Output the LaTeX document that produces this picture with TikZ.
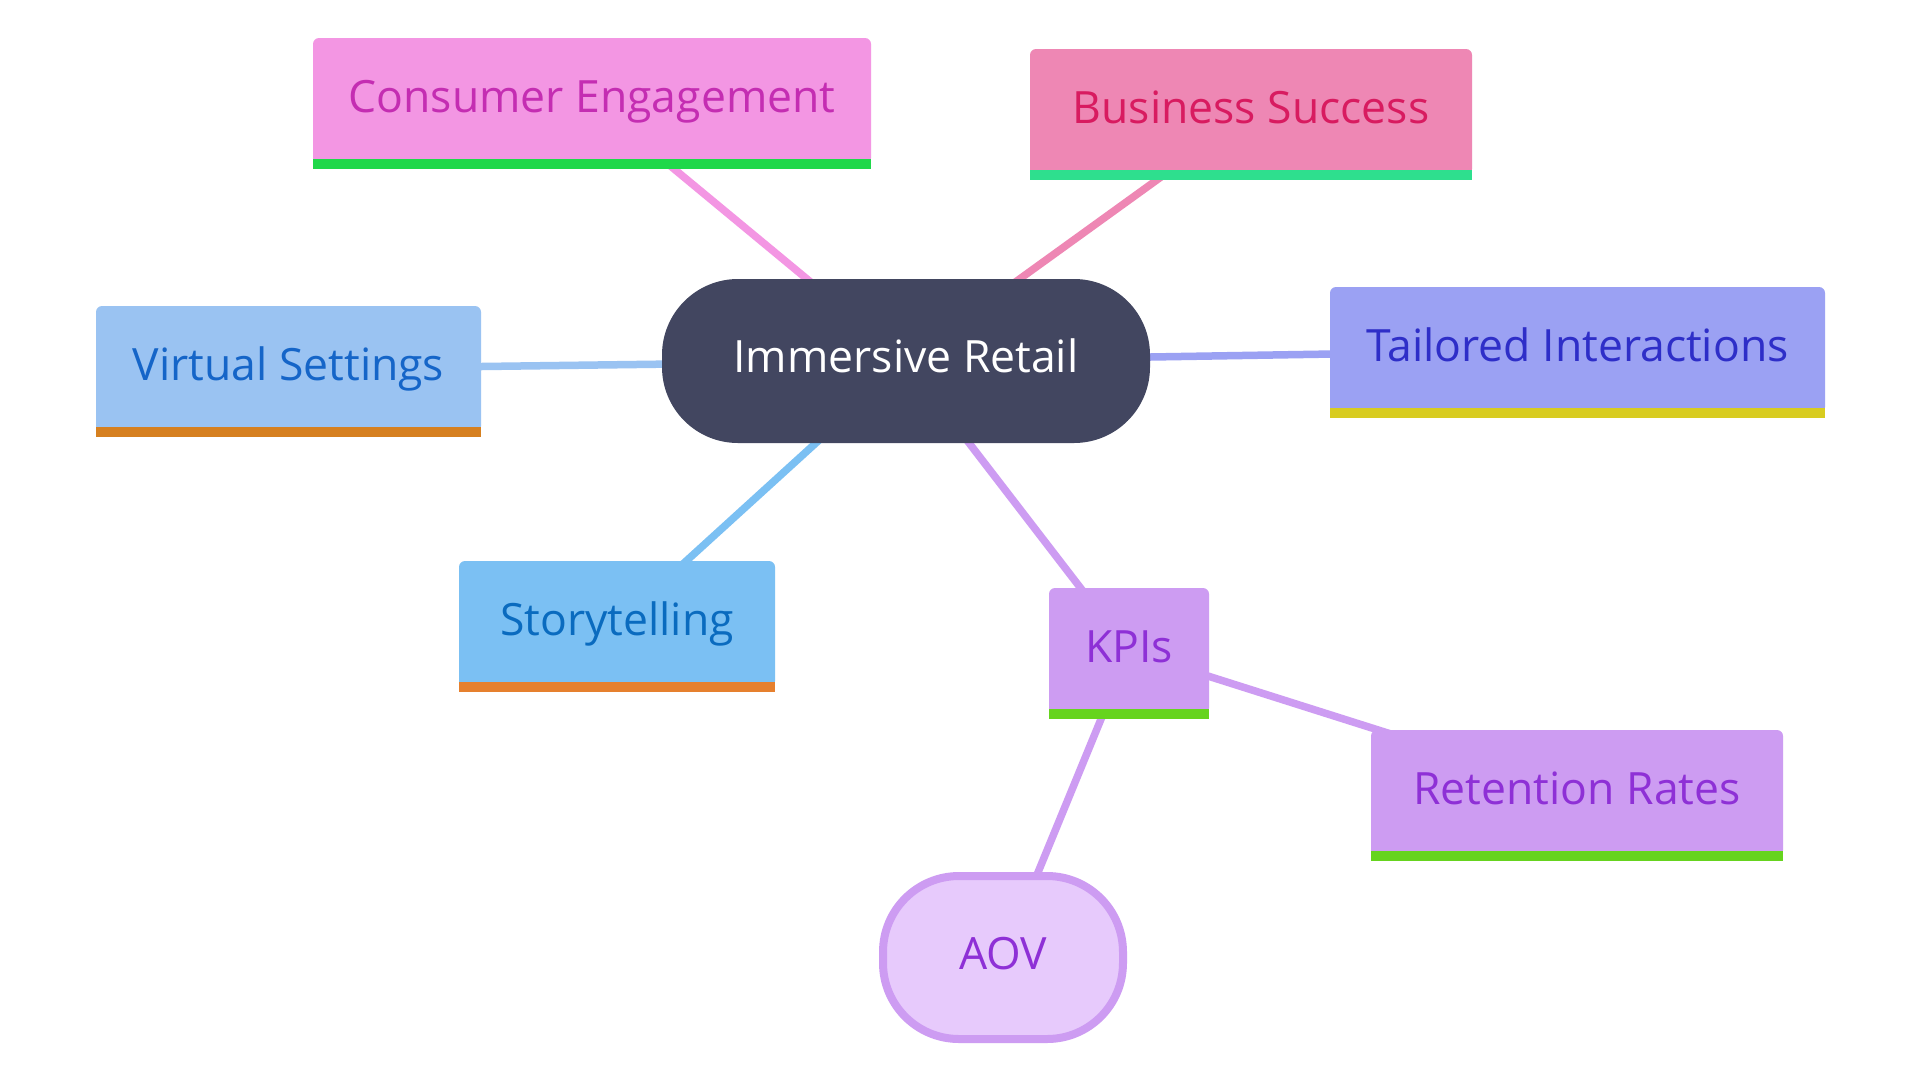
\documentclass[tikz,border=0pt]{standalone}
\usepackage{fontspec}
\setmainfont{Open Sans}
\usetikzlibrary{backgrounds}

\definecolor{irfill}{HTML}{424660}
\definecolor{cefill}{HTML}{F396E3}
\definecolor{cetext}{HTML}{C42DB2}
\definecolor{cebar}{HTML}{1FD84A}
\definecolor{bsfill}{HTML}{EE87B4}
\definecolor{bstext}{HTML}{D81B60}
\definecolor{bsbar}{HTML}{2EDF8E}
\definecolor{vsfill}{HTML}{9AC3F2}
\definecolor{vstext}{HTML}{1565C8}
\definecolor{vsbar}{HTML}{D68020}
\definecolor{tifill}{HTML}{9BA1F3}
\definecolor{titext}{HTML}{2E2EC8}
\definecolor{tibar}{HTML}{D8CC20}
\definecolor{stfill}{HTML}{7BC0F3}
\definecolor{sttext}{HTML}{0A6BBF}
\definecolor{stbar}{HTML}{E6802E}
\definecolor{kpfill}{HTML}{CD9CF2}
\definecolor{kptext}{HTML}{8E30D6}
\definecolor{kpbar}{HTML}{66D41E}
\definecolor{aovfill}{HTML}{E7CAFC}

\begin{document}
\begin{tikzpicture}[x=1pt,y=-1pt,
  font=\fontsize{44.5}{50}\selectfont,
  leaf/.style={rounded corners=6pt, minimum height=126pt, inner sep=0pt, text height=32pt, text depth=9pt},
  pill/.style={rounded corners=76pt, inner sep=0pt, text height=32pt, text depth=9pt},
  link/.style={line width=7.5pt}]
\useasboundingbox (0,0) rectangle (1920,1080);
% root
\node[pill, fill=irfill, text=white, minimum width=488pt, minimum height=164pt] (retail) at (906,361) {Immersive Retail};
% branches
\node[leaf, fill=cefill, text=cetext, minimum width=558pt] (engage) at (592,101) {Consumer Engagement};
\node[leaf, fill=bsfill, text=bstext, minimum width=442pt] (success) at (1251,112) {Business Success};
\node[leaf, fill=vsfill, text=vstext, minimum width=385pt] (virtual) at (288.5,369) {Virtual Settings};
\node[leaf, fill=tifill, text=titext, minimum width=495pt] (tailored) at (1577.5,350) {Tailored Interactions};
\node[leaf, fill=stfill, text=sttext, minimum width=316pt] (story) at (617,624) {Storytelling};
\node[leaf, fill=kpfill, text=kptext, minimum width=160pt] (kpis) at (1129,651) {KPIs};
\node[leaf, fill=kpfill, text=kptext, minimum width=412pt] (retention) at (1577,793) {Retention Rates};
\node[pill, draw=kpfill, line width=8pt, fill=aovfill, text=kptext, minimum width=240pt, minimum height=163pt] (aov) at (1003,957.5) {AOV};
% bottom bars
\foreach \n/\c in {engage/cebar, success/bsbar, virtual/vsbar, tailored/tibar, story/stbar, kpis/kpbar, retention/kpbar}
  \fill[\c] ([yshift=5pt]\n.south west) rectangle ([yshift=-5pt]\n.south east);
% links behind the nodes
\begin{pgfonlayer}{background}
\fill[white] (0,0) rectangle (1920,1080);
\foreach \a/\b/\c in {retail/engage/cefill, retail/success/bsfill, retail/virtual/vsfill, retail/tailored/tifill, retail/story/stfill, retail/kpis/kpfill, kpis/retention/kpfill, kpis/aov/kpfill}
  \draw[link, \c] (\a.center) -- (\b.center);
\end{pgfonlayer}
\end{tikzpicture}
\end{document}
